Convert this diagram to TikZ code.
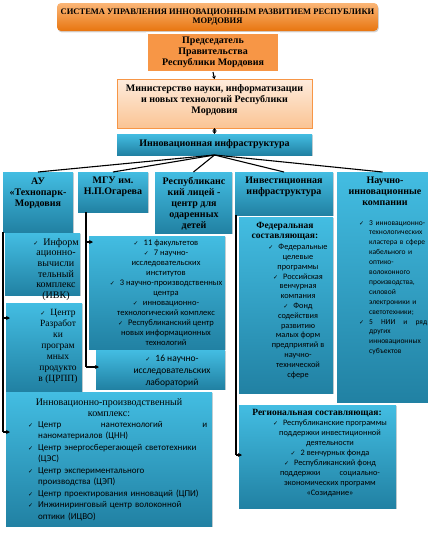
\documentclass[tikz,border=0pt]{standalone}
\usepackage{fontspec}
\setmainfont{Liberation Serif}
\newfontfamily\calf{Carlito}
\newfontfamily\dvf{DejaVu Sans}
\usetikzlibrary{shadows,arrows.meta}
\definecolor{bT}{HTML}{43BDE2}
\definecolor{bB}{HTML}{2181A3}
\definecolor{oT}{HTML}{FBB677}
\definecolor{oB}{HTML}{E8750F}
\definecolor{oF}{HTML}{F79646}
\definecolor{pT}{HTML}{FEECDD}
\definecolor{pB}{HTML}{FAC494}
\newcommand\ck{{\dvf\fontsize{6}{6}\selectfont ✓}}
\newcommand\cki{\ck\hspace{5pt}}
\newcommand\lck{\leavevmode\llap{\cki}}
\begin{document}
\begin{tikzpicture}[x=1pt,y=-1pt,
 box/.style={anchor=north west, inner sep=0pt, outer sep=0pt,
   drop shadow={shadow xshift=0.8pt, shadow yshift=-1.4pt, opacity=0.35}},
 bluebox/.style={box, top color=bT, bottom color=bB},
 hd/.style={anchor=north, inner sep=0pt, align=center, font=\fontsize{10}{11}\selectfont\bfseries},
 sr/.style={anchor=north, inner sep=0pt, align=center},
 ls/.style={anchor=north, inner sep=0pt, align=center},
 conn/.style={line width=1.1pt, black},
 arr/.style={conn, -{Stealth[length=4pt,width=4pt]}},
]
\useasboundingbox (0,0) rectangle (428,533);

% top level
\node[box, rounded corners=4pt, top color=oT, bottom color=oB, minimum width=321pt, minimum height=28pt] (title) at (57,3) {};
\node[inner sep=0pt, align=center, font=\fontsize{8.5}{9}\selectfont\bfseries] (titlet) at (title.center)
 {СИСТЕМА УПРАВЛЕНИЯ ИННОВАЦИОННЫМ РАЗВИТИЕМ РЕСПУБЛИКИ\\МОРДОВИЯ};

\node[box, fill=oF, draw=white, line width=1.5pt, minimum width=132pt, minimum height=39pt] (pred) at (147,33) {};
\node[inner sep=0pt, align=center, font=\fontsize{10}{11}\selectfont\bfseries] (predt) at (pred.center)
 {Председатель\\Правительства\\Республики Мордовия};

\node[box, top color=pT, bottom color=pB, draw=oF, line width=0.8pt, minimum width=195pt, minimum height=49pt] (min) at (117,79) {};
\node[inner sep=0pt, align=center, font=\fontsize{10}{11}\selectfont\bfseries, yshift=3pt] (mint) at (min.center)
 {Министерство науки, информатизации\\и новых технологий Республики\\Мордовия};

\node[bluebox, minimum width=195pt, minimum height=21pt] (innov) at (117,134) {};
\node[inner sep=0pt, font=\fontsize{10}{11}\selectfont\bfseries] (innovt) at (innov.center) {Инновационная инфраструктура};

% second level
\node[bluebox, minimum width=70pt, minimum height=60pt] (tp) at (3,172) {};
\node[hd] (tpt) at (38,178) {АУ\\«Технопарк-\\Мордовия};

\node[bluebox, minimum width=70pt, minimum height=40pt] (mgu) at (78,172) {};
\node[hd] (mgut) at (113,177) {МГУ им.\\Н.П.Огарева};

\node[bluebox, minimum width=77pt, minimum height=61pt] (lyc) at (155,172) {};
\node[hd] (lyct) at (194,177) {Республиканс\\кий лицей -\\центр для\\одаренных\\детей};

\node[bluebox, minimum width=98pt, minimum height=43pt] (inv) at (235,172) {};
\node[hd] (invt) at (284,177) {Инвестиционная\\инфраструктура};

\node[bluebox, minimum width=91pt, minimum height=230pt] (nau) at (337,172) {};
\node[hd] (naut) at (385,177) {Научно-\\инновационные\\компании};
\node[anchor=north west, inner sep=0pt, align=left, text width=58pt, font=\calf\fontsize{7.5}{9.9}\selectfont] (naul) at (369,220)
 {\lck 3 инновационно-\\технологических\\кластера в сфере\\кабельного и\\оптико-\\волоконного\\производства,\\силовой\\электроники и\\светотехники;\\\lck\hbox to 58pt{5\hfill НИИ\hfill и\hfill ряд}\\других\\инновационных\\субъектов};

% Technopark children
\node[bluebox, minimum width=75pt, minimum height=62pt] (ivk) at (5,233) {};
\node[sr, font=\fontsize{10}{10.7}\selectfont] (ivkt) at (56,238) {\cki Информ\\ационно-\\вычисли\\тельный\\комплекс\\(ИВК)};

\node[bluebox, minimum width=76pt, minimum height=88pt] (crpp) at (6,303) {};
\node[sr, font=\fontsize{9.5}{11}\selectfont] (crppt) at (58,309) {\cki Центр\\Разработ\\ки\\програм\\мных\\продукто\\в (ЦРПП)};

\node[bluebox, minimum width=206pt, minimum height=134pt] (complex) at (6,392) {};
\node[sr, font=\fontsize{10}{11}\selectfont] (complext) at (109,398) {Инновационно-производственный\\комплекс:};
\node[anchor=north west, inner sep=0pt, align=left, text width=171pt, font=\calf\fontsize{9}{11.5}\selectfont] (complexl) at (38,421)
 {\lck\hbox to 169pt{Центр\hfill нанотехнологий\hfill и}\\наноматериалов (ЦНН)\\
  \lck Центр энергосберегающей светотехники\\(ЦЭС)\\
  \lck Центр экспериментального\\производства (ЦЭП)\\
  \lck Центр проектирования инноваций (ЦПИ)\\
  \lck Инжиниринговый центр волоконной\\оптики (ИЦВО)};

% MGU children
\node[bluebox, minimum width=136pt, minimum height=113pt] (mgul) at (89,236) {};
\node[ls, font=\calf\fontsize{8.5}{10}\selectfont] (mgult) at (166,240)
 {\cki 11 факультетов\\\cki 7 научно-\\исследовательских\\институтов\\\cki 3 научно-производственных\\центра\\\cki инновационно-\\технологический комплекс\\\cki Республиканский центр\\новых информационных\\технологий};

\node[bluebox, minimum width=129pt, minimum height=39pt] (labs) at (96,350) {};
\node[ls, font=\calf\fontsize{9.5}{12}\selectfont] (labst) at (172,355) {\cki 16 научно-\\исследовательских\\лабораторий};

% Investment children
\node[bluebox, minimum width=94pt, minimum height=176pt] (fed) at (239,217) {};
\node[hd, font=\fontsize{9.5}{10}\selectfont\bfseries] (fedt) at (285,222) {Федеральная\\составляющая:};
\node[ls, font=\calf\fontsize{8.3}{9.8}\selectfont] (fedl) at (298,244)
 {\cki Федеральные\\целевые\\программы\\\cki Российская\\венчурная\\компания\\\cki Фонд\\содействия\\развитию\\малых форм\\предприятий в\\научно-\\технической\\сфере};

\node[bluebox, minimum width=157pt, minimum height=103pt] (reg) at (239,405) {};
\node[hd, font=\fontsize{9.5}{10}\selectfont\bfseries] (regt) at (317,409) {Региональная составляющая:};
\node[ls, font=\calf\fontsize{8.3}{10}\selectfont] (regl) at (330,420)
 {\cki Республиканские программы\\поддержки инвестиционной\\деятельности\\\cki 2 венчурных фонда\\\cki Республиканский фонд\\\leavevmode\hbox to 100pt{поддержки\hfill социально-}\\экономических программ\\«Созидание»};

% connectors
\draw[conn, -{Stealth[length=3pt,width=4pt]}] (pred.south) -- (min.north);
\draw[conn, {Stealth[length=3pt,width=4pt]}-{Stealth[length=3pt,width=4pt]}] (min.south) -- (innov.north);
\foreach \t in {tp,mgu,lyc,inv,nau} \draw[conn] (innov.south) -- (\t.north);

\coordinate (tpA) at (3,232);
\coordinate (tpB) at (3,318);
\coordinate (tpC) at (3,432);
\coordinate (tpBe) at (10,318);
\coordinate (tpCe) at (10,432);
\draw[conn] (tpA) -- (tpC);
\draw[arr] (tpB) -- (tpBe);
\draw[arr] (tpC) -- (tpCe);

\coordinate (mA) at (86,212);
\coordinate (mB) at (86,242);
\coordinate (mC) at (86,367);
\coordinate (mBe) at (93,242);
\coordinate (mCe) at (99,367);
\draw[conn] (mA) -- (mC);
\draw[arr] (mB) -- (mBe);
\draw[arr] (mC) -- (mCe);

\coordinate (iA) at (236,215);
\coordinate (iB) at (236,455);
\coordinate (iBe) at (242,455);
\draw[conn] (iA) -- (iB);
\draw[arr] (iB) -- (iBe);
\end{tikzpicture}
\end{document}
